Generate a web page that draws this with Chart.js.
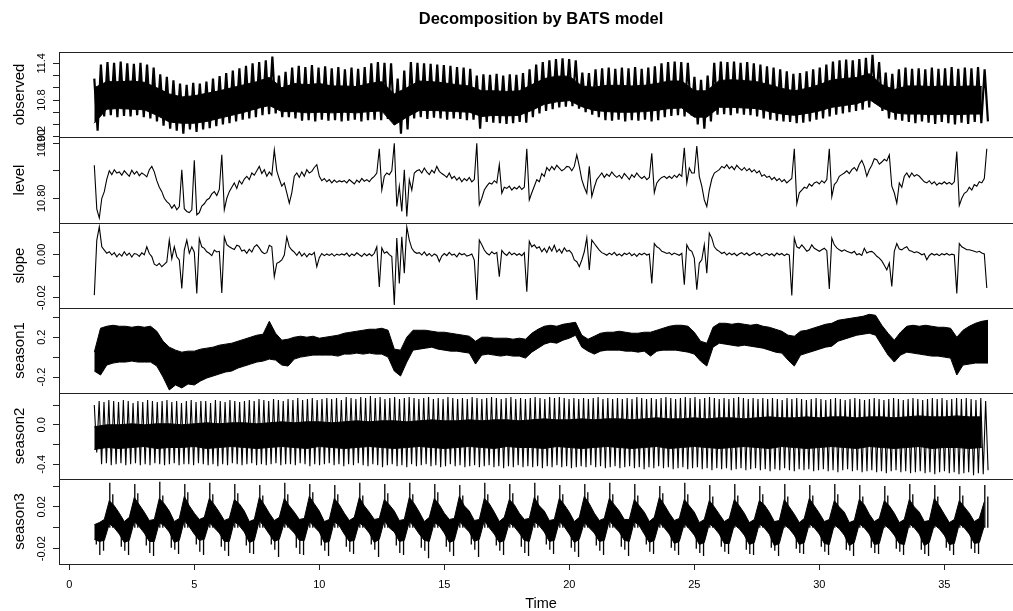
<!DOCTYPE html>
<html>
<head>
<meta charset="utf-8">
<title>Decomposition by BATS model</title>
<script src="https://cdn.jsdelivr.net/npm/chart.js@4.4.1/dist/chart.umd.min.js"></script>
<style>
  html, body { margin: 0; padding: 0; background: #fff; overflow: hidden; }
  #panels { position: relative; width: 1040px; height: 611px; }
  #panels canvas { position: absolute; left: 0; top: 0; }
</style>
</head>
<body>
<div id="panels"></div>
<script>
// ---- time base -------------------------------------------------------------
const xTicks = [0, 5, 10, 15, 20, 25, 30, 35];
const X_RANGE = [-0.412, 38.148];

// ---- observed: one tooth per step (high then low), plus the solid core ------
const OBS_START = 1, OBS_STEP = 0.2638, BAND_STEP = 0.5;
const obsHi = [
  11.15,
  11.38, 11.42, 11.41, 11.43, 11.40, 11.39, 11.41, 11.38,
  11.33, 11.22, 11.18, 11.12, 11.07, 11.05, 11.08, 11.07,
  11.10, 11.15, 11.19, 11.24, 11.28, 11.32, 11.36,
  11.40, 11.42, 11.45, 11.51, 11.20, 11.26, 11.33,
  11.36, 11.34, 11.37, 11.33, 11.35, 11.32, 11.34, 11.30, 11.33, 11.31, 11.34,
  11.40, 11.42, 11.41, 11.40,
  11.15, 11.28,
  11.42, 11.41, 11.40, 11.39, 11.38, 11.37, 11.36, 11.34, 11.33, 11.31,
  11.20,
  11.22, 11.21, 11.23, 11.20, 11.22, 11.21, 11.24,
  11.30, 11.38, 11.42, 11.45, 11.47, 11.48, 11.47, 11.45,
  11.25, 11.24, 11.30,
  11.32, 11.33, 11.31, 11.33, 11.32, 11.34, 11.31, 11.33, 11.35, 11.40, 11.42,
  11.43, 11.42, 11.41,
  11.18, 11.13, 11.20,
  11.41, 11.43, 11.42, 11.43, 11.41, 11.42, 11.40,
  11.38, 11.35, 11.33, 11.30, 11.27,
  11.23, 11.24, 11.27, 11.30, 11.33, 11.38, 11.43,
  11.45, 11.46, 11.45, 11.47, 11.49,
  11.54, 11.42, 11.25, 11.23, 11.30,
  11.33, 11.31, 11.32, 11.30, 11.33, 11.31, 11.32, 11.34, 11.31, 11.33, 11.32, 11.34, 11.30
];
const obsLo = [
  10.30,
  10.53, 10.55, 10.52, 10.54, 10.53, 10.55, 10.52, 10.50,
  10.45, 10.38, 10.33, 10.30, 10.25, 10.32, 10.28, 10.32,
  10.34, 10.37, 10.40, 10.42, 10.45, 10.48, 10.50,
  10.52, 10.55, 10.57, 10.58, 10.52, 10.52, 10.50,
  10.46, 10.47, 10.45, 10.48, 10.46, 10.47, 10.45, 10.46, 10.48, 10.45, 10.47,
  10.48, 10.47, 10.49, 10.40,
  10.25, 10.32,
  10.50, 10.52, 10.49, 10.51, 10.50, 10.48, 10.50, 10.49, 10.47, 10.48,
  10.33,
  10.44, 10.43, 10.42, 10.41, 10.42, 10.44, 10.43,
  10.52, 10.58, 10.62, 10.65, 10.68, 10.69, 10.70, 10.66,
  10.60, 10.56, 10.52,
  10.47, 10.46, 10.48, 10.45, 10.47, 10.46, 10.48, 10.45, 10.47, 10.52, 10.54,
  10.55, 10.53, 10.55,
  10.40, 10.33, 10.45,
  10.56, 10.57, 10.55, 10.58, 10.56, 10.55, 10.53,
  10.50, 10.48, 10.46, 10.45, 10.44,
  10.42, 10.43, 10.45, 10.48, 10.50, 10.53, 10.56,
  10.58, 10.60, 10.62, 10.64, 10.68,
  10.74, 10.62, 10.50, 10.48, 10.46,
  10.44, 10.42, 10.45, 10.43, 10.41, 10.44, 10.42, 10.40, 10.43, 10.41, 10.44, 10.42, 10.45
];
const obsCoreHi = [
  11.00, 11.10, 11.10, 11.11, 11.09, 11.00, 10.90, 10.85, 10.87, 10.91,
  10.95, 11.00, 11.05, 11.10, 11.17, 11.00, 11.07, 11.05, 11.07, 11.03,
  11.03, 11.02, 11.07, 11.10, 10.90, 11.00, 11.11, 11.10, 11.08, 11.05,
  11.03, 10.95, 10.95, 10.94, 10.95, 11.05, 11.15, 11.19, 11.19, 11.03,
  11.01, 11.04, 11.04, 11.03, 11.04, 11.07, 11.11, 11.11, 10.95, 10.95,
  11.12, 11.13, 11.12, 11.10, 11.05, 10.99, 10.95, 10.99, 11.05, 11.13,
  11.15, 11.17, 11.23, 11.05, 10.97, 11.03, 11.03, 11.02, 11.03, 11.02,
  11.03, 11.02
];
const obsCoreLo = [
  10.42, 10.65, 10.66, 10.65, 10.64, 10.55, 10.44, 10.42, 10.42, 10.45,
  10.50, 10.55, 10.60, 10.66, 10.71, 10.61, 10.61, 10.59, 10.60, 10.59,
  10.60, 10.59, 10.61, 10.62, 10.39, 10.52, 10.63, 10.63, 10.62, 10.61,
  10.60, 10.53, 10.55, 10.54, 10.55, 10.63, 10.73, 10.77, 10.79, 10.69,
  10.63, 10.61, 10.60, 10.60, 10.61, 10.63, 10.66, 10.67, 10.52, 10.52,
  10.68, 10.68, 10.67, 10.66, 10.61, 10.57, 10.55, 10.58, 10.62, 10.68,
  10.71, 10.74, 10.81, 10.67, 10.59, 10.57, 10.57, 10.56, 10.57, 10.56,
  10.57, 10.57
];
const obsTicks = [10.2, 10.4, 10.6, 10.8, 11.0, 11.2, 11.4];
const obsLabels = ['10.2', '10.8', '11.4'];

// ---- level (one value every 0.1) ------------------------------------------
const LEVEL_START = 1, LEVEL_STEP = 0.1;
const levelVals = [
  10.86, 10.78, 10.764, 10.80, 10.812, 10.835, 10.85, 10.843, 10.852, 10.846,
  10.848, 10.842, 10.850, 10.845, 10.840, 10.851, 10.844, 10.849, 10.841, 10.846,
  10.843, 10.839, 10.852, 10.858, 10.848, 10.832, 10.82, 10.812, 10.80, 10.794,
  10.79, 10.782, 10.788, 10.779, 10.785, 10.852, 10.781, 10.776, 10.774, 10.779,
  10.869, 10.77, 10.774, 10.786, 10.79, 10.797, 10.80, 10.808, 10.812, 10.805,
  10.816, 10.879, 10.779, 10.80, 10.812, 10.82, 10.828, 10.818, 10.832, 10.826,
  10.835, 10.84, 10.834, 10.846, 10.842, 10.85, 10.858, 10.845, 10.852, 10.84,
  10.848, 10.842, 10.888, 10.85, 10.835, 10.822, 10.828, 10.81, 10.791, 10.81,
  10.84, 10.846, 10.838, 10.848, 10.84, 10.852, 10.846, 10.849, 10.856, 10.861,
  10.84, 10.832, 10.836, 10.83, 10.834, 10.828, 10.833, 10.829, 10.832, 10.83,
  10.832, 10.828, 10.834, 10.83, 10.826, 10.833, 10.829, 10.836, 10.831, 10.834,
  10.83, 10.836, 10.84, 10.846, 10.89, 10.815, 10.84, 10.846, 10.843, 10.85,
  10.90, 10.785, 10.822, 10.776, 10.852, 10.767, 10.834, 10.815, 10.846, 10.85,
  10.852, 10.846, 10.855, 10.848, 10.843, 10.851, 10.846, 10.858, 10.849, 10.845,
  10.842, 10.838, 10.846, 10.836, 10.84, 10.833, 10.838, 10.83, 10.836, 10.832,
  10.838, 10.83, 10.834, 10.90, 10.788, 10.80, 10.815, 10.822, 10.828, 10.826,
  10.832, 10.828, 10.861, 10.809, 10.82, 10.818, 10.822, 10.815, 10.82, 10.817,
  10.822, 10.816, 10.82, 10.89, 10.797, 10.81, 10.822, 10.834, 10.83, 10.845,
  10.84, 10.856, 10.85, 10.858, 10.852, 10.86, 10.855, 10.85, 10.853, 10.858,
  10.857, 10.85, 10.858, 10.879, 10.858, 10.834, 10.82, 10.809, 10.858, 10.803,
  10.82, 10.834, 10.84, 10.846, 10.838, 10.844, 10.84, 10.848, 10.842, 10.838,
  10.842, 10.836, 10.845, 10.84, 10.834, 10.843, 10.838, 10.846, 10.84, 10.836,
  10.84, 10.834, 10.838, 10.882, 10.81, 10.828, 10.834, 10.838, 10.84, 10.836,
  10.84, 10.836, 10.842, 10.838, 10.844, 10.84, 10.892, 10.828, 10.855, 10.846,
  10.846, 10.895, 10.84, 10.822, 10.797, 10.785, 10.815, 10.835, 10.846, 10.849,
  10.852, 10.858, 10.855, 10.861, 10.854, 10.858, 10.852, 10.86, 10.855, 10.851,
  10.856, 10.85, 10.854, 10.848, 10.852, 10.846, 10.85, 10.84, 10.843, 10.838,
  10.84, 10.834, 10.838, 10.832, 10.836, 10.83, 10.834, 10.828, 10.832, 10.836,
  10.89, 10.79, 10.81, 10.815, 10.82, 10.818, 10.826, 10.822, 10.828, 10.83,
  10.826, 10.832, 10.828, 10.834, 10.89, 10.803, 10.825, 10.83, 10.84, 10.843,
  10.846, 10.85, 10.845, 10.852, 10.856, 10.85, 10.862, 10.869, 10.858, 10.84,
  10.852, 10.86, 10.872, 10.87, 10.862, 10.866, 10.871, 10.868, 10.879, 10.822,
  10.81, 10.791, 10.828, 10.82, 10.84, 10.846, 10.838, 10.846, 10.84, 10.843,
  10.84, 10.835, 10.83, 10.828, 10.832, 10.826, 10.83, 10.824, 10.828, 10.826,
  10.83, 10.826, 10.829, 10.825, 10.83, 10.885, 10.787, 10.80, 10.809, 10.812,
  10.82, 10.815, 10.825, 10.822, 10.83, 10.828, 10.836, 10.89
];
const levelTicks = [10.80, 10.85, 10.90];
const levelLabels = ['10.80', '10.90'];

// ---- slope (one value every 0.1) ------------------------------------------
const slopeVals = [
  -0.0188, 0.0066, 0.0127, 0.0035, 0.002, 0.0005, 0.0012, -0.0003, 0.0008, -0.0011,
  0.0003, -0.0008, 0.0012, -0.0005, 0.0006, -0.0012, 0.0004, 0.0001, -0.0009, 0.0007,
  -0.0002, 0.0035, 0.0004, -0.001, -0.0045, -0.0052, -0.0041, -0.0057, -0.0046, -0.0035,
  0.0066, -0.002, 0.0035, -0.0011, -0.0026, -0.0157, 0.002, 0.0066, 0.0005, 0.0035,
  0.001, -0.018, 0.0073, 0.0035, 0.0028, 0.0012, 0.0005, -0.0006, 0.002, 0.0011,
  0.0014, -0.0178, 0.008, 0.0045, 0.0035, 0.0028, 0.0022, 0.0042, 0.0038, 0.0015,
  0.002, 0.0005, 0.0024, 0.0011, 0.0035, 0.0044, 0.003, 0.0012, 0.0003, 0.0008,
  0.0042, 0.0035, -0.0103, -0.0041, -0.0035, -0.0026, -0.0003, 0.008, 0.0035, 0.002,
  0.001, -0.0004, 0.0012, -0.0008, 0.0005, -0.0011, 0.0003, -0.0002, 0.0009, -0.0057,
  -0.0015, 0.0004, -0.0006, 0.0002, -0.0005, 0.0003, -0.0008, 0.0001, -0.0004, 0.0002,
  -0.0003, 0.0006, -0.0009, 0.0002, -0.0005, 0.0007, -0.0002, -0.001, 0.0004, -0.0006,
  0.0003, -0.0007, 0.0005, 0.0035, -0.015, 0.003, 0.0005, 0.0012, -0.0001, -0.001,
  -0.0234, 0.0076, -0.0134, 0.0081, -0.0087, 0.0127, 0.0066, 0.0028, 0.0012, 0.0005,
  0.0008, -0.0003, 0.0011, -0.0006, 0.0004, -0.0009, 0.0002, -0.0005, -0.0033, -0.0008,
  0.0004, -0.0006, 0.0009, -0.0003, 0.0001, -0.0011, 0.0006, -0.0002, 0.0003, -0.0008,
  -0.0004, 0.0002, -0.0026, -0.021, 0.0066, 0.0044, 0.002, 0.0005, -0.0003, 0.0012,
  0.0002, 0.0009, -0.0103, 0.0018, 0.0004, -0.0005, 0.001, -0.0002, 0.0006, -0.0004,
  0.0003, -0.0006, 0.0008, -0.0172, 0.006, 0.0035, 0.0044, 0.0028, 0.0035, 0.0012,
  0.0028, 0.0008, 0.0035, 0.0015, 0.0042, 0.0011, 0.0024, 0.0006, 0.003, 0.0014,
  0.0018, 0.0005, -0.0026, -0.0034, -0.0057, -0.0026, 0.0012, 0.0076, -0.0072, 0.0066,
  0.005, 0.0035, 0.002, 0.0008, 0.0003, -0.0004, 0.0006, -0.0002, 0.0009, -0.0005,
  0.0002, -0.0007, 0.0005, -0.0001, 0.0008, -0.0006, 0.0003, -0.0009, 0.0004, -0.0002,
  0.0006, -0.0003, 0.0002, -0.0134, 0.005, 0.0035, 0.0028, 0.0014, 0.001, 0.0004,
  0.0008, -0.0002, 0.0006, 0.0001, -0.0004, 0.0005, -0.014, 0.0044, 0.0021, 0.0014,
  -0.0017, -0.0163, -0.004, -0.0025, 0.0044, -0.0087, 0.0098, 0.0075, 0.0035, 0.0021,
  0.0014, 0.0004, 0.001, -0.0003, 0.0007, -0.0002, 0.0005, -0.0006, 0.0003, 0.0008,
  -0.0002, 0.0006, -0.0005, 0.0002, 0.0009, -0.0003, 0.0004, -0.0008, 0.0001, 0.0005,
  -0.0004, 0.0003, -0.0007, 0.0006, -0.0002, 0.0004, -0.0006, 0.0002, -0.0003, -0.019,
  0.0075, 0.0035, 0.0028, 0.0044, 0.003, 0.0014, 0.0021, 0.0044, 0.0028, 0.0021,
  0.0014, 0.0021, 0.0028, 0.0017, -0.016, 0.0075, 0.0044, 0.003, 0.0021, 0.0014,
  0.0021, 0.0014, 0.001, 0.0006, 0.0014, -0.0002, 0.0003, -0.0005, 0.0028, 0.0006,
  0.0012, 0.0014, 0.0005, -0.0009, -0.0017, -0.003, -0.005, -0.0072, -0.004, -0.0148,
  0.0014, 0.005, 0.0025, 0.0021, 0.003, 0.0035, 0.0018, 0.0014, 0.0008, 0.0012,
  0.0006, -0.0002, 0.0003, -0.0025, -0.0005, 0.0004, -0.0003, 0.0002, -0.0006, 0.0003,
  -0.0002, 0.0004, -0.0004, 0.0001, -0.0003, -0.018, 0.005, 0.0035, 0.0028, 0.0021,
  0.0021, 0.0018, 0.0014, 0.001, 0.0014, 0.0006, 0.0002, -0.0155
];
const slopeTicks = [-0.02, -0.01, 0.00, 0.01];
const slopeLabels = ['-0.02', '0.00'];

// ---- season1: upper and lower edge of the band, every 0.25 -----------------
const S1_START = 1, S1_STEP = 0.25;
const s1Top = [
  0.05, 0.29, 0.31, 0.32, 0.31, 0.31, 0.30, 0.31, 0.30, 0.31,
  0.26, 0.16, 0.10, 0.07, 0.05, 0.06, 0.06, 0.08, 0.09, 0.10,
  0.12, 0.13, 0.14, 0.16, 0.18, 0.20, 0.22, 0.23, 0.36, 0.24,
  0.17, 0.18, 0.20, 0.21, 0.20, 0.21, 0.19, 0.20, 0.21, 0.22,
  0.24, 0.25, 0.26, 0.27, 0.28, 0.28, 0.29, 0.27, 0.08, 0.07,
  0.20, 0.27, 0.27, 0.27, 0.26, 0.25, 0.25, 0.24, 0.23, 0.22,
  0.21, 0.16, 0.20, 0.20, 0.19, 0.19, 0.19, 0.18, 0.19, 0.18,
  0.24, 0.28, 0.31, 0.32, 0.31, 0.33, 0.34, 0.35, 0.22, 0.18,
  0.21, 0.24, 0.25, 0.25, 0.26, 0.25, 0.24, 0.24, 0.25, 0.25,
  0.27, 0.29, 0.31, 0.32, 0.32, 0.31, 0.25, 0.16, 0.14, 0.30,
  0.34, 0.34, 0.33, 0.34, 0.33, 0.32, 0.33, 0.31, 0.30, 0.28,
  0.26, 0.22, 0.21, 0.26, 0.27, 0.29, 0.31, 0.33, 0.34, 0.37,
  0.38, 0.39, 0.40, 0.41, 0.43, 0.42, 0.32, 0.24, 0.17, 0.25,
  0.31, 0.32, 0.31, 0.32, 0.31, 0.30, 0.30, 0.29, 0.20, 0.27,
  0.31, 0.34, 0.36, 0.37
];
const s1Bot = [
  -0.14, -0.18, -0.08, -0.06, -0.05, -0.05, -0.04, -0.05, -0.05, -0.05,
  -0.09, -0.20, -0.33, -0.28, -0.31, -0.27, -0.28, -0.24, -0.21, -0.19,
  -0.17, -0.15, -0.14, -0.11, -0.09, -0.07, -0.05, -0.04, -0.02, -0.03,
  -0.08, -0.09, -0.02, 0.00, 0.01, 0.02, 0.02, 0.02, 0.02, 0.01,
  0.03, 0.03, 0.04, 0.03, 0.04, 0.03, 0.03, 0.00, -0.14, -0.19,
  -0.05, 0.07, 0.08, 0.09, 0.10, 0.08, 0.07, 0.06, 0.06, 0.05,
  0.04, -0.07, 0.02, 0.03, 0.02, 0.01, 0.02, 0.01, 0.01, -0.01,
  0.05, 0.09, 0.13, 0.15, 0.14, 0.17, 0.19, 0.22, 0.10, 0.06,
  0.03, 0.06, 0.07, 0.07, 0.07, 0.06, 0.06, 0.05, 0.06, 0.01,
  0.06, 0.07, 0.07, 0.07, 0.06, 0.05, 0.03, -0.04, -0.09, 0.10,
  0.14, 0.13, 0.12, 0.11, 0.12, 0.11, 0.10, 0.09, 0.07, 0.05,
  0.04, -0.03, -0.09, 0.02, 0.04, 0.06, 0.08, 0.10, 0.11, 0.16,
  0.18, 0.20, 0.22, 0.23, 0.24, 0.22, 0.12, 0.02, -0.05, 0.02,
  0.05, 0.04, 0.03, 0.02, 0.01, 0.01, 0.00, -0.01, -0.18, -0.08,
  -0.07, -0.06, -0.06, -0.06
];
const s1Ticks = [-0.2, 0.0, 0.2, 0.4];
const s1Labels = ['-0.2', '0.2'];

// ---- season2: one cycle per step (crest then trough), plus the core --------
const S2_START = 1, S2_STEP = 0.19377;
const s2Crest = [
  0.20, 0.24, 0.23, 0.25, 0.24, 0.23, 0.25, 0.24, 0.22, 0.24,
  0.23, 0.25, 0.24, 0.23, 0.24, 0.25, 0.23, 0.24, 0.22, 0.24,
  0.25, 0.23, 0.24, 0.24, 0.22, 0.25, 0.24, 0.23, 0.25, 0.24,
  0.23, 0.24, 0.25, 0.24, 0.26, 0.25, 0.24, 0.26, 0.25, 0.24,
  0.26, 0.25, 0.27, 0.25, 0.26, 0.27, 0.25, 0.26, 0.27, 0.26,
  0.27, 0.25, 0.28, 0.27, 0.26, 0.28, 0.27, 0.29, 0.27, 0.28,
  0.26, 0.27, 0.28, 0.26, 0.27, 0.28, 0.27, 0.26, 0.27, 0.28,
  0.26, 0.27, 0.26, 0.28, 0.27, 0.26, 0.27, 0.26, 0.28, 0.27,
  0.26, 0.27, 0.28, 0.27, 0.26, 0.27, 0.28, 0.26, 0.27, 0.26,
  0.27, 0.28, 0.27, 0.26, 0.28, 0.27, 0.28, 0.27, 0.26, 0.27,
  0.26, 0.27, 0.26, 0.27, 0.28, 0.26, 0.27, 0.26, 0.27, 0.26,
  0.27, 0.26, 0.28, 0.27, 0.26, 0.27, 0.26, 0.27, 0.28, 0.27,
  0.26, 0.27, 0.28, 0.27, 0.28, 0.26, 0.27, 0.28, 0.27, 0.26,
  0.27, 0.26, 0.27, 0.28, 0.27, 0.26, 0.27, 0.26, 0.27, 0.26,
  0.27, 0.26, 0.25, 0.27, 0.26, 0.27, 0.26, 0.25, 0.26, 0.27,
  0.26, 0.25, 0.26, 0.27, 0.26, 0.25, 0.26, 0.27, 0.26, 0.25,
  0.26, 0.27, 0.26, 0.25, 0.26, 0.27, 0.26, 0.25, 0.26, 0.27,
  0.26, 0.25, 0.26, 0.27, 0.26, 0.27, 0.25, 0.26, 0.27, 0.26,
  0.27, 0.26, 0.25, 0.27, 0.24
];
const s2Trough = [
  -0.28, -0.40, -0.39, -0.41, -0.40, -0.39, -0.41, -0.40, -0.39, -0.41,
  -0.40, -0.41, -0.39, -0.40, -0.41, -0.40, -0.39, -0.41, -0.40, -0.40,
  -0.41, -0.39, -0.40, -0.41, -0.40, -0.42, -0.40, -0.41, -0.39, -0.40,
  -0.41, -0.40, -0.39, -0.41, -0.40, -0.41, -0.40, -0.39, -0.41, -0.40,
  -0.40, -0.41, -0.39, -0.40, -0.42, -0.40, -0.41, -0.40, -0.39, -0.41,
  -0.40, -0.42, -0.40, -0.41, -0.39, -0.41, -0.42, -0.40, -0.41, -0.43,
  -0.41, -0.40, -0.42, -0.41, -0.43, -0.40, -0.42, -0.41, -0.40, -0.42,
  -0.41, -0.43, -0.42, -0.40, -0.42, -0.41, -0.43, -0.42, -0.41, -0.43,
  -0.42, -0.41, -0.43, -0.42, -0.44, -0.42, -0.43, -0.41, -0.43, -0.42,
  -0.43, -0.42, -0.44, -0.42, -0.43, -0.41, -0.43, -0.42, -0.44, -0.43,
  -0.42, -0.43, -0.41, -0.43, -0.42, -0.44, -0.43, -0.42, -0.44, -0.43,
  -0.42, -0.44, -0.43, -0.45, -0.43, -0.44, -0.42, -0.44, -0.43, -0.45,
  -0.44, -0.43, -0.45, -0.44, -0.43, -0.45, -0.44, -0.46, -0.44, -0.45,
  -0.44, -0.46, -0.45, -0.44, -0.46, -0.45, -0.44, -0.46, -0.45, -0.47,
  -0.45, -0.46, -0.44, -0.46, -0.47, -0.45, -0.46, -0.45, -0.47, -0.46,
  -0.45, -0.47, -0.46, -0.48, -0.46, -0.45, -0.47, -0.46, -0.48, -0.47,
  -0.46, -0.48, -0.47, -0.49, -0.47, -0.46, -0.48, -0.47, -0.49, -0.48,
  -0.47, -0.49, -0.48, -0.50, -0.48, -0.47, -0.49, -0.48, -0.50, -0.49,
  -0.48, -0.51, -0.49, -0.50, -0.46
];
const s2CoreHi = [
  -0.02, 0.00, 0.00, 0.01, 0.00, 0.01, 0.01, 0.00, 0.01, 0.02,
  0.01, 0.02, 0.02, 0.01, 0.02, 0.03, 0.02, 0.03, 0.03, 0.02,
  0.03, 0.04, 0.03, 0.04, 0.04, 0.03, 0.04, 0.05, 0.04, 0.04,
  0.05, 0.04, 0.05, 0.05, 0.04, 0.05, 0.06, 0.05, 0.05, 0.06,
  0.05, 0.06, 0.06, 0.05, 0.06, 0.07, 0.06, 0.06, 0.07, 0.06,
  0.07, 0.07, 0.06, 0.07, 0.08, 0.07, 0.07, 0.08, 0.07, 0.08,
  0.08, 0.07, 0.08, 0.08, 0.07, 0.08, 0.09, 0.08, 0.08, 0.09,
  0.08, 0.08
];
const s2CoreLo = [
  -0.25, -0.23, -0.24, -0.23, -0.22, -0.24, -0.23, -0.23, -0.22, -0.24,
  -0.23, -0.22, -0.23, -0.24, -0.23, -0.22, -0.23, -0.24, -0.22, -0.23,
  -0.24, -0.23, -0.22, -0.23, -0.24, -0.23, -0.22, -0.23, -0.24, -0.23,
  -0.22, -0.23, -0.24, -0.22, -0.23, -0.23, -0.24, -0.22, -0.23, -0.24,
  -0.23, -0.22, -0.23, -0.24, -0.23, -0.22, -0.24, -0.23, -0.22, -0.23,
  -0.24, -0.23, -0.22, -0.23, -0.24, -0.22, -0.23, -0.24, -0.23, -0.22,
  -0.23, -0.24, -0.22, -0.23, -0.24, -0.23, -0.22, -0.24, -0.23, -0.23,
  -0.24, -0.23
];
const s2Ticks = [-0.4, -0.2, 0.0, 0.2];
const s2Labels = ['-0.4', '0.0'];

// ---- season3: band edges every 0.2, spikes once per unit -------------------
const S3_START = 1, S3_STEP = 0.2;
const S3_UP_PHASE = 0.62, S3_UP_PHASE_B = 0.74;
const S3_DOWN_PHASE_A = 0.22, S3_DOWN_PHASE_B = 0.37, S3_DOWN_PHASE_C = 0.08;
const s3Top = [
  0.003, 0.005, 0.008, 0.026, 0.021,  0.014, 0.006, 0.010, 0.029, 0.022,
  0.015, 0.007, 0.008, 0.028, 0.023,  0.016, 0.006, 0.009, 0.030, 0.021,
  0.014, 0.008, 0.010, 0.028, 0.022,  0.015, 0.007, 0.009, 0.027, 0.023,
  0.016, 0.006, 0.008, 0.029, 0.022,  0.014, 0.007, 0.010, 0.028, 0.021,
  0.015, 0.008, 0.009, 0.030, 0.023,  0.016, 0.006, 0.008, 0.028, 0.022,
  0.014, 0.007, 0.010, 0.029, 0.021,  0.015, 0.008, 0.009, 0.027, 0.022,
  0.016, 0.007, 0.008, 0.029, 0.023,  0.015, 0.006, 0.010, 0.028, 0.022,
  0.014, 0.008, 0.009, 0.030, 0.021,  0.016, 0.007, 0.008, 0.028, 0.023,
  0.015, 0.006, 0.010, 0.027, 0.022,  0.014, 0.008, 0.009, 0.029, 0.021,
  0.016, 0.007, 0.008, 0.028, 0.022,  0.015, 0.006, 0.010, 0.030, 0.023,
  0.014, 0.007, 0.009, 0.028, 0.022,  0.016, 0.008, 0.008, 0.027, 0.021,
  0.015, 0.006, 0.010, 0.029, 0.022,  0.014, 0.007, 0.009, 0.027, 0.021,
  0.015, 0.005, 0.008, 0.026, 0.020,  0.013, 0.006, 0.009, 0.027, 0.021,
  0.014, 0.005, 0.008, 0.026, 0.022,  0.015, 0.006, 0.007, 0.027, 0.020,
  0.013, 0.005, 0.009, 0.028, 0.021,  0.014, 0.006, 0.008, 0.026, 0.020,
  0.015, 0.005, 0.007, 0.027, 0.022,  0.013, 0.006, 0.009, 0.026, 0.021,
  0.014, 0.005, 0.008, 0.027, 0.020,  0.015, 0.006, 0.007, 0.028, 0.021,
  0.013, 0.005, 0.008, 0.026, 0.020,  0.014, 0.006, 0.009, 0.025
];
const s3Bot = [
  -0.011, -0.013, -0.012, 0.004, 0.000,  -0.006, -0.014, -0.012, 0.006, 0.001,
  -0.005, -0.013, -0.013, 0.005, 0.002,  -0.004, -0.014, -0.012, 0.007, 0.001,
  -0.006, -0.012, -0.011, 0.005, 0.000,  -0.005, -0.013, -0.013, 0.006, 0.002,
  -0.004, -0.014, -0.012, 0.007, 0.001,  -0.006, -0.013, -0.011, 0.005, 0.000,
  -0.005, -0.012, -0.012, 0.006, 0.001,  -0.004, -0.014, -0.013, 0.006, 0.002,
  -0.006, -0.013, -0.012, 0.005, 0.001,  -0.005, -0.014, -0.011, 0.007, 0.000,
  -0.004, -0.013, -0.012, 0.006, 0.001,  -0.006, -0.012, -0.013, 0.005, 0.002,
  -0.005, -0.014, -0.012, 0.006, 0.001,  -0.004, -0.013, -0.011, 0.007, 0.000,
  -0.006, -0.014, -0.012, 0.005, 0.001,  -0.005, -0.012, -0.013, 0.006, 0.002,
  -0.004, -0.013, -0.012, 0.006, 0.001,  -0.006, -0.014, -0.011, 0.005, 0.000,
  -0.005, -0.013, -0.012, 0.007, 0.001,  -0.004, -0.012, -0.013, 0.006, 0.002,
  -0.006, -0.014, -0.012, 0.005, 0.000,  -0.006, -0.015, -0.013, 0.004, -0.001,
  -0.007, -0.016, -0.014, 0.004, 0.000,  -0.006, -0.015, -0.015, 0.003, -0.001,
  -0.007, -0.016, -0.014, 0.004, 0.000,  -0.006, -0.017, -0.015, 0.003, -0.001,
  -0.007, -0.016, -0.014, 0.004, 0.000,  -0.006, -0.015, -0.016, 0.003, -0.001,
  -0.007, -0.017, -0.014, 0.004, 0.000,  -0.006, -0.016, -0.015, 0.003, -0.001,
  -0.007, -0.015, -0.016, 0.004, 0.000,  -0.006, -0.017, -0.014, 0.003, -0.001,
  -0.007, -0.016, -0.015, 0.004, 0.000,  -0.006, -0.015, -0.014, 0.002
];
const s3Up = [
  0.043, 0.042, 0.044, 0.042, 0.043, 0.042, 0.041, 0.043, 0.042, 0.041,
  0.043, 0.042, 0.043, 0.042, 0.041, 0.043, 0.042, 0.043, 0.041, 0.042,
  0.043, 0.042, 0.040, 0.043, 0.041, 0.042, 0.040, 0.042, 0.041, 0.042,
  0.041, 0.040, 0.042, 0.041, 0.040, 0.041
];
const s3UpB = [
  0.032, 0.033, 0.031, 0.034, 0.032, 0.033, 0.031, 0.032, 0.034, 0.032,
  0.031, 0.033, 0.032, 0.034, 0.031, 0.032, 0.033, 0.031, 0.032, 0.034,
  0.032, 0.031, 0.033, 0.032, 0.030, 0.031, 0.032, 0.030, 0.031, 0.032,
  0.030, 0.031, 0.032, 0.030, 0.031, 0.030
];
const s3DownA = [
  -0.026, -0.022, -0.024, -0.021, -0.023, -0.022, -0.024, -0.021, -0.025, -0.022,
  -0.023, -0.021, -0.024, -0.022, -0.023, -0.021, -0.022, -0.024, -0.021, -0.023,
  -0.022, -0.021, -0.023, -0.022, -0.024, -0.023, -0.025, -0.022, -0.024, -0.023,
  -0.022, -0.024, -0.023, -0.025, -0.022, -0.024
];
const s3DownB = [
  -0.022, -0.026, -0.027, -0.025, -0.026, -0.027, -0.025, -0.028, -0.026, -0.027,
  -0.025, -0.028, -0.026, -0.029, -0.027, -0.028, -0.026, -0.027, -0.025, -0.028,
  -0.026, -0.027, -0.025, -0.026, -0.027, -0.025, -0.026, -0.027, -0.025, -0.026,
  -0.027, -0.025, -0.026, -0.027, -0.026, -0.025
];
const s3DownC = [
  -0.016, -0.018, -0.017, -0.019, -0.016, -0.018, -0.017, -0.016, -0.019, -0.017,
  -0.018, -0.016, -0.017, -0.019, -0.018, -0.016, -0.017, -0.018, -0.016, -0.019,
  -0.017, -0.018, -0.016, -0.019, -0.020, -0.018, -0.021, -0.019, -0.020, -0.018,
  -0.021, -0.019, -0.020, -0.021, -0.019, -0.020
];
const s3Ticks = [-0.02, 0.00, 0.02, 0.04];
const s3Labels = ['-0.02', '0.02'];

// ---- page geometry ---------------------------------------------------------
const CANVAS_W = 1040, CANVAS_H = 611;
const PLOT_LEFT = 59, PLOT_RIGHT = 1023;
const PANEL_EDGES = [52, 137, 223, 308, 393, 479, 564];
const FONT = '"Liberation Sans", Arimo, Arial, Helvetica, sans-serif';

Chart.defaults.font.family = FONT;
Chart.defaults.color = '#000';

// ---- dataset builders ------------------------------------------------------
function pts(vals, start, step) {
  return vals.map((v, i) => ({ x: start + i * step, y: v }));
}
function teeth(hi, lo, start, step) {
  const out = [];
  hi.forEach((v, i) => {
    out.push({ x: start + i * step, y: v });
    out.push({ x: start + (i + 0.5) * step, y: lo[i] });
  });
  return out;
}
function lineSet(data, width) {
  return { type: 'line', data, borderColor: '#000', borderWidth: width,
           pointRadius: 0, tension: 0, fill: false, spanGaps: false };
}
function bandSets(hi, lo, start, step) {
  return [
    { type: 'line', data: pts(hi, start, step), borderColor: '#000', borderWidth: 1,
      backgroundColor: '#000', pointRadius: 0, tension: 0, fill: '+1' },
    { type: 'line', data: pts(lo, start, step), borderColor: '#000', borderWidth: 1,
      pointRadius: 0, tension: 0, fill: false }
  ];
}
// vertical hairlines from zero to each value, one per seasonal cycle
function spikeSet(vals, phase) {
  const data = [];
  vals.forEach((v, i) => {
    const t = S3_START + i + phase;
    data.push({ x: t, y: 0 }, { x: t, y: v }, { x: t, y: null });
  });
  return lineSet(data, 1.3);
}

const panels = [
  { name: 'observed', range: [10.195, 11.585], ticks: obsTicks, labels: obsLabels,
    datasets: [...bandSets(obsCoreHi, obsCoreLo, OBS_START, BAND_STEP),
               lineSet(teeth(obsHi, obsLo, OBS_START, OBS_STEP), 2.2)] },
  { name: 'level', range: [10.755, 10.9115], ticks: levelTicks, labels: levelLabels,
    datasets: [lineSet(pts(levelVals, LEVEL_START, LEVEL_STEP), 1.1)] },
  { name: 'slope', range: [-0.02475, 0.01448], ticks: slopeTicks, labels: slopeLabels,
    datasets: [lineSet(pts(slopeVals, LEVEL_START, LEVEL_STEP), 1.1)] },
  { name: 'season1', range: [-0.3608, 0.4935], ticks: s1Ticks, labels: s1Labels,
    datasets: bandSets(s1Top, s1Bot, S1_START, S1_STEP) },
  { name: 'season2', range: [-0.5488, 0.3215], ticks: s2Ticks, labels: s2Labels,
    datasets: [...bandSets(s2CoreHi, s2CoreLo, S2_START, BAND_STEP),
               lineSet(teeth(s2Crest, s2Trough, S2_START, S2_STEP), 1.1)] },
  { name: 'season3', range: [-0.0346, 0.0467], ticks: s3Ticks, labels: s3Labels,
    datasets: [...bandSets(s3Top, s3Bot, S3_START, S3_STEP),
               spikeSet(s3Up, S3_UP_PHASE),
               spikeSet(s3UpB, S3_UP_PHASE_B),
               spikeSet(s3DownA, S3_DOWN_PHASE_A),
               spikeSet(s3DownB, S3_DOWN_PHASE_B),
               spikeSet(s3DownC, S3_DOWN_PHASE_C)] }
];

// box around each panel and the rotated y tick labels
const panelFrame = {
  id: 'panelFrame',
  afterDraw(chart, args, opts) {
    const { ctx, chartArea: a } = chart;
    const y = chart.scales.y;
    ctx.save();
    ctx.strokeStyle = '#222';
    ctx.lineWidth = 1;
    ctx.strokeRect(a.left + 0.5, a.top + 0.5, a.right - a.left, a.bottom - a.top);
    ctx.fillStyle = '#000';
    ctx.font = '11px ' + FONT;
    ctx.textAlign = 'center';
    ctx.textBaseline = 'alphabetic';
    for (const lab of opts.labels) {
      const py = y.getPixelForValue(parseFloat(lab));
      ctx.save();
      ctx.translate(PLOT_LEFT - 14, py);
      ctx.rotate(-Math.PI / 2);
      ctx.fillText(lab, 0, 0);
      ctx.restore();
    }
    ctx.restore();
  }
};

const holder = document.getElementById('panels');
panels.forEach((p, k) => {
  const first = k === 0, last = k === panels.length - 1;
  const canvas = document.createElement('canvas');
  canvas.width = CANVAS_W; canvas.height = CANVAS_H;
  canvas.style.width = CANVAS_W + 'px'; canvas.style.height = CANVAS_H + 'px';
  holder.appendChild(canvas);

  const xScale = {
    type: 'linear', min: X_RANGE[0], max: X_RANGE[1], offset: false, display: last,
    afterBuildTicks: s => { s.ticks = xTicks.map(v => ({ value: v })); },
    grid: { display: true, offset: false, drawOnChartArea: false, drawTicks: true,
            tickLength: 6, color: '#222' },
    border: { display: false },
    ticks: { font: { size: 11 }, color: '#000', padding: 8, maxRotation: 0, autoSkip: false },
    title: { display: true, text: 'Time', color: '#000',
             font: { size: 14.5, lineHeight: 1 }, padding: { top: 0, bottom: 0 } }
  };
  if (last) xScale.afterFit = s => { s.height = CANVAS_H - PANEL_EDGES[6]; };

  new Chart(canvas, {
    type: 'line',
    data: { datasets: p.datasets },
    options: {
      responsive: false, animation: false, events: [], devicePixelRatio: 1,
      layout: { padding: { top: first ? 9 : PANEL_EDGES[k],
                           bottom: last ? 0 : CANVAS_H - PANEL_EDGES[k + 1],
                           left: 0, right: CANVAS_W - PLOT_RIGHT } },
      plugins: {
        legend: { display: false },
        tooltip: { enabled: false },
        title: first ? { display: true, text: 'Decomposition by BATS model', fullSize: false,
                         color: '#000', font: { size: 16.5, weight: 'bold', lineHeight: '20px' },
                         padding: { top: 0, bottom: 23 } } : { display: false },
        panelFrame: { labels: p.labels }
      },
      scales: {
        x: xScale,
        y: {
          type: 'linear', min: p.range[0], max: p.range[1],
          afterBuildTicks: s => { s.ticks = p.ticks.map(v => ({ value: v })); },
          afterFit: s => { s.width = PLOT_LEFT; },
          grid: { display: true, drawOnChartArea: false, drawTicks: true, tickLength: 6, color: '#222' },
          border: { display: false },
          ticks: { display: false },
          title: { display: true, text: p.name, color: '#000',
                   font: { size: 15 }, padding: { top: 11, bottom: 0 } }
        }
      }
    },
    plugins: [panelFrame]
  });
});
</script>
</body>
</html>
